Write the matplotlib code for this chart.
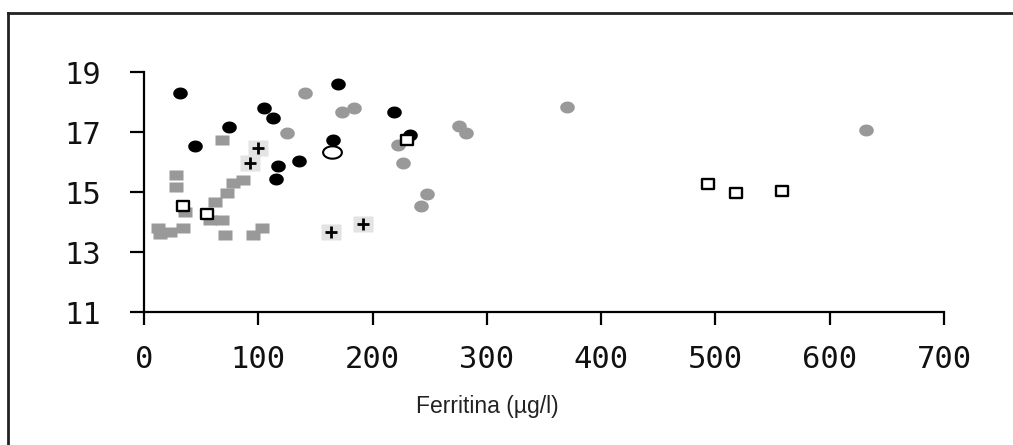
import numpy as np
import matplotlib
matplotlib.use("Agg")
import matplotlib.pyplot as plt
from matplotlib.path import Path
from matplotlib.lines import Line2D

# ---- data (Ferritina µg/l vs value) ----
black_x = [31.5, 169.7, 105.0, 112.9, 74.4, 44.6, 117.2, 115.5, 135.6, 165.4, 218.7, 232.7]
black_y = [18.30, 18.60, 17.80, 17.47, 17.17, 16.53, 15.87, 15.43, 16.03, 16.73, 17.67, 16.90]

gcirc_x = [125.1, 140.9, 173.2, 183.7, 222.2, 226.6, 247.6, 242.4, 275.6, 281.7, 370.1, 631.7]
gcirc_y = [16.97, 18.30, 17.67, 17.80, 16.57, 15.97, 14.93, 14.53, 17.20, 16.97, 17.83, 17.07]

gsq_x = [68.5, 27.7, 27.7, 86.9, 78.1, 72.4, 62.1, 35.9, 68.0, 57.7,
         12.0, 14.0, 23.0, 34.0, 70.9, 103.0, 95.6]
gsq_y = [16.73, 15.57, 15.18, 15.40, 15.29, 14.96, 14.68, 14.34, 14.07, 14.07,
         13.80, 13.60, 13.68, 13.80, 13.57, 13.79, 13.57]

plus_x = [100.0, 92.7, 163.6, 191.6]
plus_y = [16.46, 15.96, 13.67, 13.93]

osq_x = [34.4, 54.9, 230.4, 493.8, 517.7, 558.0]
osq_y = [14.53, 14.26, 16.73, 15.26, 14.96, 15.03]

ocirc_x = [164.2]
ocirc_y = [16.34]

x_ticks = [0, 100, 200, 300, 400, 500, 600, 700]
y_ticks = [11, 13, 15, 17, 19]
x_label = "Ferritina (µg/l)"

# ---- marker shapes ----
t = np.linspace(0, 2 * np.pi, 60)
ellipse = Path(np.column_stack([np.cos(t), 0.82 * np.sin(t)]), closed=True)
rect = Path([(-1, -0.72), (1, -0.72), (1, 0.72), (-1, 0.72), (-1, -0.72)], closed=True)
orect = Path([(-1, -0.75), (1, -0.75), (1, 0.75), (-1, 0.75), (-1, -0.75)], closed=True)
bgrect = Path([(-1, -0.76), (1, -0.76), (1, 0.76), (-1, 0.76), (-1, -0.76)], closed=True)
oell = Path(np.column_stack([np.cos(t), 0.66 * np.sin(t)]), closed=True)

fig = plt.figure(figsize=(10.13, 4.45), dpi=100)
fig.patch.set_facecolor("white")
ax = fig.add_axes([144 / 1013, 1 - 312 / 445, 800 / 1013, 240 / 445])

gray = "#999999"
ax.plot(gsq_x, gsq_y, ls="none", marker=rect, ms=10, mfc=gray, mec="none")
ax.plot(plus_x, plus_y, ls="none", marker=bgrect, ms=15, mfc="#e3e3e3", mec="none")
ax.plot(plus_x, plus_y, ls="none", marker="+", ms=9, mew=2, color="black")
ax.plot(gcirc_x, gcirc_y, ls="none", marker=ellipse, ms=10.5, mfc=gray, mec="none")
ax.plot(black_x, black_y, ls="none", marker=ellipse, ms=10.5, mfc="black", mec="none")
ax.plot(ocirc_x, ocirc_y, ls="none", marker=oell, ms=13.5, mfc="white", mec="black", mew=1.5)
ax.plot(osq_x, osq_y, ls="none", marker=orect, ms=8.8, mfc="white", mec="black", mew=1.7)

ax.set_xlim(0, 700)
ax.set_ylim(11, 19)
ax.set_xticks(x_ticks)
ax.set_yticks(y_ticks)
ax.set_xticklabels([str(v) for v in x_ticks])
ax.set_yticklabels([str(v) for v in y_ticks])
for s in ["top", "right"]:
    ax.spines[s].set_visible(False)
for s in ["left", "bottom"]:
    ax.spines[s].set_linewidth(1.6)
    ax.spines[s].set_color("black")
ax.tick_params(axis="y", direction="out", length=10, width=1.6, pad=21,
               labelsize=22)
ax.tick_params(axis="x", direction="out", length=9, width=1.6, pad=15,
               labelsize=22)
for lab in ax.get_xticklabels() + ax.get_yticklabels():
    lab.set_fontfamily("DejaVu Sans Mono")
    lab.set_color("#111111")
ax.patch.set_alpha(0)

fig.text(487 / 1013, 1 - 413 / 445, x_label, ha="center", va="baseline",
         fontsize=16.5, family="Liberation Sans", color="#222222")

# outer frame (top and left edges visible)
fig.add_artist(Line2D([7.5 / 1013, 7.5 / 1013], [0, 1 - 13 / 445],
                      transform=fig.transFigure, color="#222222", lw=2))
fig.add_artist(Line2D([7.5 / 1013, 1], [1 - 13 / 445, 1 - 13 / 445],
                      transform=fig.transFigure, color="#222222", lw=2))

fig.savefig("out.png", dpi=100)
